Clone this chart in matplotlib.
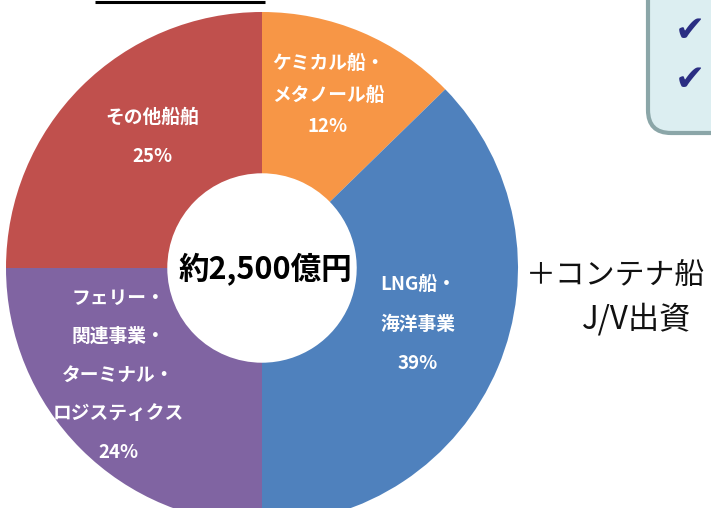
import matplotlib
matplotlib.use("Agg")
import matplotlib.pyplot as plt
from matplotlib.patches import FancyBboxPatch

plt.rcParams['font.family'] = ['Noto Sans CJK JP', 'DejaVu Sans']

# data
categories = ["ケミカル船・\nメタノール船", "LNG船・\n海洋事業",
              "フェリー・\n関連事業・\nターミナル・\nロジスティクス", "その他船舶"]
shares = [12.7, 37.3, 25.0, 25.0]          # wedge sizes as drawn
pct_labels = ["12%", "39%", "24%", "25%"]  # printed percentages
colors = ["#F79646", "#4F81BD", "#8064A2", "#C0504D"]
center_text = "約2,500億円"
side_line1 = "＋コンテナ船"
side_line2 = "J/V出資"

W, H = 711, 508
cx, cy, R = 262, 268, 256

fig = plt.figure(figsize=(W / 100, H / 100), dpi=100)
ax = fig.add_axes([0, 0, 1, 1])

ax.pie(shares, colors=colors, startangle=90, counterclock=False, radius=1.0,
       wedgeprops=dict(width=0.63, linewidth=0))

ax.set_xlim(-cx / R, (W - cx) / R)
ax.set_ylim((cy - H) / R, cy / R)
ax.set_aspect('equal')
ax.axis('off')

def px(x, y):
    return ((x - cx) / R, (cy - y) / R)

lab_pos = [(328, 95, 1.85), (418, 324, 2.35), (118, 375, 2.3), (152, 137, 2.35)]
for cat, pct, (x, y, ls) in zip(categories, pct_labels, lab_pos):
    ax.text(*px(x, y), cat + "\n" + pct, ha='center', va='center', color='white',
            fontsize=13.5, fontweight='bold', linespacing=ls)

ax.text(*px(265, 270), center_text, ha='center', va='center', color='black',
        fontsize=22, fontweight='bold')

ax.text(*px(616, 275), side_line1, ha='center', va='center', color='#111111',
        fontsize=21.5)
ax.text(*px(637, 319), side_line2, ha='center', va='center', color='#111111',
        fontsize=22.5)

# top underline
x0, y0 = px(95, 2)
x1, _ = px(265, 2)
ax.plot([x0, x1], [y0, y0], color='black', lw=2.2, solid_capstyle='butt')

# info box (partially visible)
bx, by = px(648, 133)
box = FancyBboxPatch((bx, by), 1.0, 1.0, boxstyle="round,pad=0,rounding_size=0.09",
                     facecolor='#DCEEF1', edgecolor='#8BA6A8', linewidth=3.0)
ax.add_patch(box)
for yy in (31, 80):
    ax.text(*px(690, yy), "✔", ha='center', va='center', color='#2B2E83',
            fontsize=26, family='DejaVu Sans')

fig.savefig("out.png", dpi=100)
